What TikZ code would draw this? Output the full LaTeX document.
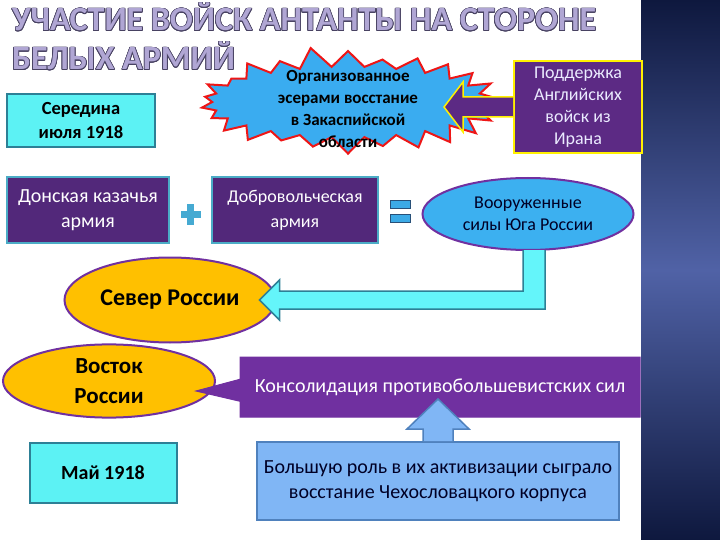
\documentclass[tikz,border=0pt]{standalone}
\usepackage{fontspec}
\setmainfont{Carlito}
\usepackage[copies]{contour}
\contourlength{0.7pt}
\usetikzlibrary{positioning,calc,shapes.geometric,shapes.symbols,shapes.callouts}

\definecolor{titlefill}{RGB}{176,166,212}
\definecolor{titleline}{RGB}{72,66,98}
\definecolor{datefill}{RGB}{92,242,244}
\definecolor{dateline}{RGB}{45,128,150}
\definecolor{armyfill}{RGB}{82,40,122}
\definecolor{armyline}{RGB}{75,172,198}
\definecolor{aidfill}{RGB}{92,42,132}
\definecolor{aidline}{RGB}{255,240,0}
\definecolor{burstfill}{RGB}{58,172,240}
\definecolor{burstline}{RGB}{238,22,22}
\definecolor{ovalfill}{RGB}{60,176,240}
\definecolor{ovalline}{RGB}{112,48,160}
\definecolor{orangefill}{RGB}{255,192,0}
\definecolor{konsolfill}{RGB}{112,48,160}
\definecolor{chehfill}{RGB}{128,182,245}
\definecolor{chehline}{RGB}{79,129,189}
\definecolor{bentfill}{RGB}{100,245,250}
\definecolor{plusfill}{RGB}{70,170,210}
\definecolor{eqfill}{RGB}{60,170,230}
\definecolor{eqline}{RGB}{40,80,120}
\definecolor{panelA}{RGB}{14,24,62}
\definecolor{panelB}{RGB}{80,98,166}

% text of the burst, kept short in height so the burst stays flat
\newsavebox\zaktext
\sbox\zaktext{\bfseries\fontsize{17}{22}\selectfont
  \begin{tabular}{@{}c@{}}Организованное\\эсерами восстание\\в Закаспийской\\области\end{tabular}}

\tikzset{
  datebox/.style={draw=dateline, fill=datefill, line width=2pt, font=\bfseries\fontsize{18.5}{24}\selectfont, align=center},
  armybox/.style={draw=armyline, fill=armyfill, line width=2pt, text=white, font=\fontsize{20}{25}\selectfont, align=center},
  aidbox/.style={draw=aidline, fill=aidfill, line width=2pt, text=white!92!blue, font=\fontsize{18}{22}\selectfont, align=center},
  burst/.style={starburst, starburst points=26, starburst point height=21pt, random starburst=11, draw=burstline, fill=burstfill, line width=2pt, inner xsep=26pt, inner ysep=7pt, text=black!85!blue},
  oval/.style={ellipse, draw=ovalline, line width=2pt, align=center},
  fatarrow/.style={line width=1.5pt, line join=miter}
}

\begin{document}
\begin{tikzpicture}[x=1pt,y=-1pt]
\useasboundingbox (0,0) rectangle (720,540);
\shade[top color=panelA, bottom color=panelB] (641,0) rectangle (720,270);
\shade[top color=panelB, bottom color=panelA] (641,270) rectangle (720,540);

% title
\node[anchor=north west, inner sep=0pt, align=left, text=titlefill, font=\bfseries\fontsize{34}{39}\selectfont] (title) at (12,3)
  {\contour{titleline}{УЧАСТИЕ ВОЙСК АНТАНТЫ НА СТОРОНЕ}\\\contour{titleline}{БЕЛЫХ АРМИЙ}};

% top row
\node[datebox, minimum width=148, minimum height=53] (mid) at (81,121) {Середина\\июля 1918};
\node[burst] (zak) at (348,102)
  {\raisebox{-12pt}[18pt][18pt]{\usebox\zaktext}};
\node[aidbox, minimum width=128, minimum height=92] (podd) at (578,107) {Поддержка\\Английских\\войск из\\Ирана};
\draw[fatarrow, draw=aidline, fill=aidfill] ($(podd.west)+(0,-10)$) -- ($(podd.west)+(-50,-10)$) -- ($(podd.west)+(-50,-25)$) -- ($(podd.west)+(-69,0)$) -- ($(podd.west)+(-50,25)$) -- ($(podd.west)+(-50,10)$) -- ($(podd.west)+(0,10)$);

% second row
\node[armybox, minimum width=162, minimum height=65] (don) at (88,210) {Донская казачья\\армия};
\node[armybox, minimum width=166, minimum height=65, font=\fontsize{18}{25}\selectfont] (dobr) at (295,210) {Добровольческая\\армия};
\node[oval, fill=ovalfill, minimum width=211, minimum height=72, text=black!85!blue, font=\fontsize{18}{22}\selectfont] (yug) at (528,214) {Вооруженные\\силы Юга России};
\coordinate (plus) at ($(don.east)!.5!(dobr.west)+(0,4)$);
\fill[plusfill] ($(plus)+(-10,-3)$) rectangle ($(plus)+(10,4)$);
\fill[plusfill] ($(plus)+(-3.5,-10)$) rectangle ($(plus)+(3.5,11)$);
\coordinate (eq) at ($(dobr.east)!.5!(yug.west)$);
\filldraw[eqfill, draw=eqline, line width=1pt] ($(eq)+(-10,-11)$) rectangle ($(eq)+(10,-3)$);
\filldraw[eqfill, draw=eqline, line width=1pt] ($(eq)+(-10,3)$) rectangle ($(eq)+(10,11)$);

% south forces to the north
\node[oval, fill=orangefill, minimum width=211, minimum height=85, font=\bfseries\fontsize{24}{28}\selectfont] (sever) at (170,300) {Север России};
\coordinate (vs) at ($(yug.south)+(6,-1)$);
\coordinate (tip) at ($(sever.east)+(-17,0)$);
\coordinate (corner) at (vs |- tip);
\draw[fatarrow, draw=dateline, fill=bentfill] ($(vs)+(-11,0)$) -- ($(corner)+(-11,-9)$) -- ($(tip)+(20,-9)$) -- ($(tip)+(20,-20)$) -- (tip) -- ($(tip)+(20,20)$) -- ($(tip)+(20,9)$) -- ($(corner)+(11,9)$) -- ($(vs)+(11,0)$);

% lower part
\node[oval, fill=orangefill, minimum width=212, minimum height=70, font=\bfseries\fontsize{23}{30}\selectfont] (vostok) at (109,381) {Восток\\России};
\node[rectangle callout, callout absolute pointer={($(vostok.east)+(-20,10)$)}, callout pointer width=22pt, draw=ovalline, fill=konsolfill, line width=1pt, text=white, minimum width=400, minimum height=60, font=\fontsize{20}{24}\selectfont] (konsol) at (440,387) {Консолидация противобольшевистских сил};
\node[draw=chehline, fill=chehfill, line width=2pt, minimum width=362, minimum height=78, align=center, text=black!85!blue, font=\fontsize{20}{25}\selectfont] (cheh) at (438,481) {Большую роль в их активизации сыграло\\восстание Чехословацкого корпуса};
\coordinate (up) at (cheh.north);
\draw[fatarrow, draw=chehline, fill=chehfill] ($(up)+(-15,0)$) -- ($(up)+(-15,-12)$) -- ($(up)+(-31,-12)$) -- ($(up)+(0,-42)$) -- ($(up)+(31,-12)$) -- ($(up)+(15,-12)$) -- ($(up)+(15,0)$);
\node[datebox, minimum width=147, minimum height=60, font=\bfseries\fontsize{20}{24}\selectfont] (may) at (103,473) {Май 1918};
\end{tikzpicture}
\end{document}
